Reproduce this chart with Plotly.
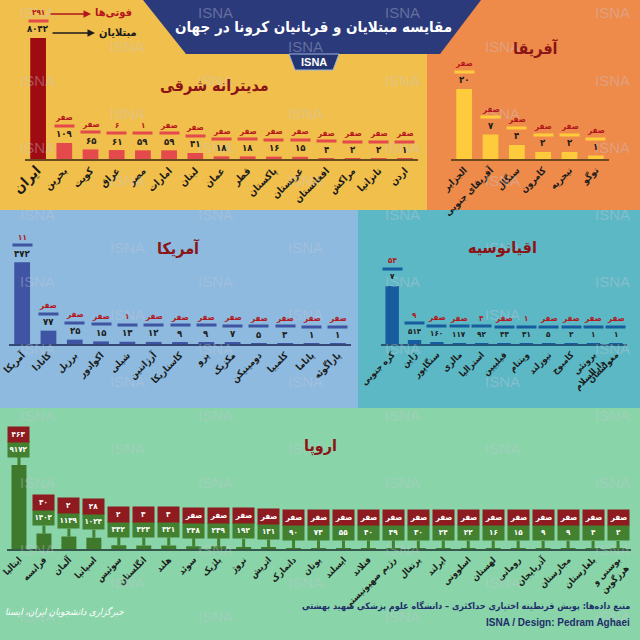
import plotly.graph_objects as go

W = H = 640
def X(px): return px / W
def Y(py): return 1 - py / H

FA_DIGITS = str.maketrans("0123456789", "۰۱۲۳۴۵۶۷۸۹")
def fa(n):
    return "صفر" if n == 0 else str(n).translate(FA_DIGITS)

FONT = "DejaVu Sans Condensed, DejaVu Sans"

# ---------------- data ----------------
med_countries = ["ایران", "بحرین", "کویت", "عراق", "مصر", "امارات", "لبنان", "عمان", "قطر",
                 "پاکستان", "عربستان", "افغانستان", "مراکش", "تانزانیا", "اردن"]
med_cases = [8042, 109, 65, 61, 59, 59, 41, 18, 18, 16, 15, 4, 2, 2, 1]
med_deaths = [291, 0, 0, 6, 1, 0, 0, 0, 0, 0, 0, 0, 0, 0, 0]

africa_countries = ["الجزایر", "آفریقای جنوبی", "سنگال", "کامرون", "نیجریه", "توگو"]
africa_cases = [20, 7, 4, 2, 2, 1]
africa_deaths = [0, 0, 0, 0, 0, 0]

america_countries = ["آمریکا", "کانادا", "برزیل", "اکوادور", "شیلی", "آرژانتین", "کاستاریکا",
                     "پرو", "مکزیک", "دومینیکن", "کلمبیا", "پاناما", "پاراگوئه"]
america_cases = [472, 77, 25, 15, 13, 12, 9, 9, 7, 5, 3, 1, 1]
america_deaths = [11, 0, 0, 0, 1, 0, 0, 0, 0, 0, 0, 0, 0]

oceania_countries = ["کره جنوبی", "ژاپن", "سنگاپور", "مالزی", "استرالیا", "فیلیپین", "ویتنام",
                     "نیوزلند", "کامبوج", "برونئی<br>دارالسلام", "مغولستان"]
oceania_cases = [7513, 514, 160, 117, 92, 33, 31, 5, 2, 1, 1]
oceania_case_labels = ["۷", "۵۱۴", "۱۶۰", "۱۱۷", "۹۲", "۳۳", "۳۱", "۵", "۲", "۱", "۱"]
oceania_deaths = [54, 9, 0, 0, 3, 0, 1, 0, 0, 0, 0]

europe_countries = ["ایتالیا", "فرانسه", "آلمان", "اسپانیا", "سوئیس", "انگلستان", "هلند", "سوئد",
                    "بلژیک", "نروژ", "اتریش", "دانمارک", "یونان", "ایسلند", "فنلاند",
                    "رژیم صهیونیستی", "پرتغال", "ایرلند", "اسلوونی", "لهستان", "رومانی",
                    "آذربایجان", "مجارستان", "بلغارستان", "بوسنی و<br>هرزگوین"]
europe_cases = [9172, 1402, 1139, 1024, 332, 323, 321, 248, 239, 192, 131, 90, 73, 55, 40,
                39, 30, 24, 22, 16, 15, 9, 9, 4, 2]
europe_deaths = [463, 30, 2, 28, 2, 3, 3, 0, 0, 0, 0, 0, 0, 0, 0,
                 0, 0, 0, 0, 0, 0, 0, 0, 0, 0]

# ---------------- panel configuration ----------------
panels = [
    dict(title="مدیترانه شرقی", title_xy=(214, 85), countries=med_countries, cases=med_cases,
         deaths=med_deaths, case_labels=None, x0=25, x1=418, base=159, top=38, ymax=824,
         colors=["#9E0B10"] + ["#E4494B"] * 14, line="#E4494B", axis="#6B4A1E",
         style="plain", big_first=True, num_size=9.5, tick_size=10),
    dict(title="آفریقا", title_xy=(536, 48), countries=africa_countries, cases=africa_cases,
         deaths=africa_deaths, case_labels=None, x0=451, x1=609, base=159, top=84, ymax=21.4,
         colors=["#FDCB3C"] * 6, line="#FDCB3C", axis="#6B4A1E", style="plain", big_first=False,
         num_size=9.5, tick_size=9.5),
    dict(title="آمریکا", title_xy=(178, 248), countries=america_countries, cases=america_cases,
         deaths=america_deaths, case_labels=None, x0=9, x1=351, base=344, top=260, ymax=485,
         colors=["#3F54A2"] * 13, line="#3F54A2", axis="#344878", style="plain", big_first=False,
         num_size=9.5, tick_size=9.5),
    dict(title="اقیانوسیه", title_xy=(502, 247), countries=oceania_countries, cases=oceania_cases,
         deaths=oceania_deaths, case_labels=oceania_case_labels, x0=381, x1=627, base=344,
         top=284, ymax=7770, colors=["#175C9E"] * 11, line="#175C9E", axis="#23587C",
         style="plain", big_first=False, num_size=8, tick_size=9),
    dict(title="اروپا", title_xy=(320, 446), countries=europe_countries, cases=europe_cases,
         deaths=europe_deaths, case_labels=None, x0=6.5, x1=630.5, base=549, top=465, ymax=7600,
         colors=["#3F7A2C"] * 25, line=None, axis="#35584A", style="bubble", big_first=False,
         num_size=8, tick_size=9),
]

fig = go.Figure()
shapes = []
annotations = []

def note(px, py, text, size, color, family=FONT, **kw):
    d = dict(xref="paper", yref="paper", x=X(px), y=Y(py), text=text, showarrow=False,
             xanchor="center", yanchor="middle", font=dict(family=family, size=size, color=color))
    d.update(kw)
    return d

# panel backgrounds
for (x0, y0, x1, y1, c) in [(0, 0, 427, 210, "#F1BF4B"), (427, 0, 640, 210, "#EE8A4A"),
                            (0, 210, 358, 408, "#8DBADE"), (358, 210, 640, 408, "#5DB8C5"),
                            (0, 408, 640, 640, "#89D4A8")]:
    shapes.append(dict(type="rect", xref="paper", yref="paper", x0=X(x0), x1=X(x1),
                       y0=Y(y1), y1=Y(y0), fillcolor=c, line=dict(width=0), layer="below"))

# watermarks
row = 0
py = 13
while py < 640:
    xs = [37, 215, 402, 612] if row % 2 == 0 else [127, 305, 502]
    for px in xs:
        annotations.append(note(px, py, "ISNA", 15, "rgba(200,200,218,0.38)", family="Liberation Sans"))
    row += 1
    py += 33.5

for i, p in enumerate(panels):
    sfx = "" if i == 0 else str(i + 1)
    xa, ya = "x" + sfx, "y" + sfx
    ticktext = []
    for j, c in enumerate(p["countries"]):
        if j == 0 and p["big_first"]:
            ticktext.append("<span style='font-size:14px'>" + c + "</span>")
        else:
            ticktext.append(c)
    fig.update_layout(**{
        "xaxis" + sfx: dict(domain=[X(p["x0"]), X(p["x1"])], anchor=ya, type="category",
                            showline=True, linecolor=p["axis"], linewidth=2, ticks="",
                            tickangle=-45, tickmode="array", tickvals=p["countries"],
                            ticktext=ticktext, showgrid=False, zeroline=False, fixedrange=True,
                            automargin=False,
                            tickfont=dict(family=FONT, size=p["tick_size"], color="#1B1B1B",
                                          weight="bold")),
        "yaxis" + sfx: dict(domain=[Y(p["base"]), Y(p["top"])], anchor=xa, range=[0, p["ymax"]],
                            visible=False, fixedrange=True, automargin=False),
    })
    fig.add_trace(go.Bar(x=p["countries"], y=p["cases"], marker=dict(color=p["colors"], line=dict(width=0)),
                         width=0.6, xaxis=xa, yaxis=ya, hoverinfo="skip", showlegend=False))

    labels = p["case_labels"] or [fa(v) for v in p["cases"]]
    ns = p["num_size"]
    for c, v, d, lab in zip(p["countries"], p["cases"], p["deaths"], labels):
        yv = min(v, p["ymax"])
        if p["style"] == "plain":
            annotations.append(dict(xref=xa, yref=ya, x=c, y=yv, yshift=9, text="<b>" + lab + "</b>",
                                    showarrow=False, font=dict(family=FONT, size=ns, color="#1B1B1B")))
            annotations.append(dict(xref=xa, yref=ya, x=c, y=yv, yshift=17, text=" ", width=19,
                                    height=2, bgcolor=p["line"], borderpad=0, showarrow=False,
                                    font=dict(size=1)))
            annotations.append(dict(xref=xa, yref=ya, x=c, y=yv, yshift=25, text="<b>" + fa(d) + "</b>",
                                    showarrow=False, font=dict(family=FONT, size=8, color="#B3161C")))
        else:
            annotations.append(dict(xref=xa, yref=ya, x=c, y=yv, text="<b>" + lab + "</b>",
                                    showarrow=True, ax=0, ay=-16, arrowhead=0, arrowwidth=3,
                                    arrowcolor="#43802F", standoff=0, width=21, height=15,
                                    bgcolor="#43802F", borderpad=0,
                                    font=dict(family=FONT, size=ns, color="white")))
            annotations.append(dict(xref=xa, yref=ya, x=c, y=yv, yshift=31, text="<b>" + fa(d) + "</b>",
                                    showarrow=False, width=21, height=15, bgcolor="#8E1B1F",
                                    borderpad=0, font=dict(family=FONT, size=ns, color="white")))
    tx, ty = p["title_xy"]
    annotations.append(note(tx, ty, "<b>" + p["title"] + "</b>", 16, "#8A1416"))

# legend for deaths / cases near Iran
annotations += [
    dict(xref="paper", yref="paper", x=X(91), y=Y(14), ax=-42, ay=0, text="", showarrow=True,
         arrowhead=2, arrowsize=1, arrowwidth=1.5, arrowcolor="#B3161C"),
    dict(xref="paper", yref="paper", x=X(95), y=Y(33), ax=-44, ay=0, text="", showarrow=True,
         arrowhead=2, arrowsize=1, arrowwidth=1.5, arrowcolor="#1B1B1B"),
    note(113, 13, "<b>فوتی‌ها</b>", 11, "#B3161C"),
    note(118, 33, "<b>مبتلایان</b>", 11, "#1B1B1B"),
]

# header banner
def path(pts):
    return "M " + " L ".join(f"{X(a)},{Y(b)}" for a, b in pts) + " Z"

shapes.append(dict(type="path", xref="paper", yref="paper",
                   path=path([(143, 0), (481, 0), (440, 54), (186, 54)]),
                   fillcolor="#2B3A7B", line=dict(width=0)))
shapes.append(dict(type="path", xref="paper", yref="paper",
                   path=path([(289, 54), (339, 54), (333, 70), (295, 70)]),
                   fillcolor="#243470", line=dict(color="#9FB3E0", width=1)))
annotations += [
    note(313, 27, "<b>مقایسه مبتلایان و قربانیان کرونا در جهان</b>", 15, "white"),
    note(314, 62, "<b>ISNA</b>", 11, "white", family="Liberation Sans"),
]

# footer
annotations += [
    note(632, 606, "<b>منبع داده‌ها: پویش قرنطینه اختیاری حداکثری – دانشگاه علوم پزشکی شهید بهشتی</b>",
         9, "#1F2E6B", xanchor="right"),
    note(632, 622, "<b>ISNA / Design: Pedram Aghaei</b>", 10, "#1F2E6B", family="Liberation Sans",
         xanchor="right"),
    note(64, 612, "<i>خبرگزاری دانشجویان ایران، ایسنا</i>", 9.5, "white"),
]

fig.update_layout(width=W, height=H, margin=dict(l=0, r=0, t=0, b=0, autoexpand=False), autosize=False,
                  paper_bgcolor="#89D4A8", plot_bgcolor="rgba(0,0,0,0)", bargap=0.4,
                  shapes=shapes, annotations=annotations, showlegend=False)

fig.write_html("out.html", config={"displayModeBar": False},
               post_script="document.body.style.margin='0';")
